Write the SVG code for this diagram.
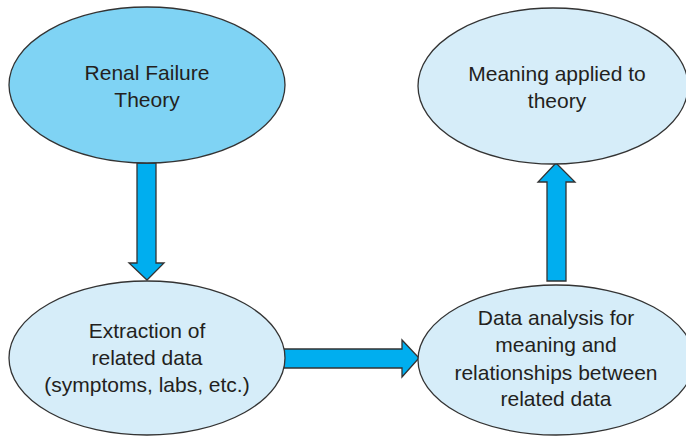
<svg xmlns="http://www.w3.org/2000/svg" width="686" height="437" viewBox="0 0 686 437">
<style>
.node ellipse{stroke:#333;stroke-width:1.3}
.light{fill:#d6edf9}
.dark{fill:#7fd3f4}
text{font-family:"Liberation Sans",Arial,sans-serif;font-size:21px;fill:#231f20;text-anchor:middle}
.arrow{fill:#00aeef;stroke:#333;stroke-width:1.3;stroke-linejoin:miter}
</style>
<rect width="686" height="437" fill="#fff"/>
<g id="connectors">
<path class="arrow" d="M137,163 L156,163 L156,263 L164,263 L147,280 L129,263 L137,263 Z"/>
<path class="arrow" d="M284,349 L402,349 L402,340 L419,358 L402,377 L402,368 L284,368 Z"/>
<path class="arrow" d="M547,281 L547,182 L538,182 L556,163 L575,182 L566,182 L566,281 Z"/>
</g>
<g id="renal" class="node">
<ellipse class="dark" cx="147" cy="85" rx="138" ry="78"/>
<text x="147" y="80">Renal Failure</text>
<text x="147" y="107">Theory</text>
</g>
<g id="meaning" class="node">
<ellipse class="light" cx="553" cy="86" rx="135" ry="78"/>
<text x="557" y="81">Meaning applied to</text>
<text x="557" y="108">theory</text>
</g>
<g id="extraction" class="node">
<ellipse class="light" cx="147" cy="358" rx="138" ry="77"/>
<text x="147" y="338">Extraction of</text>
<text x="147" y="365">related data</text>
<text x="147" y="392">(symptoms, labs, etc.)</text>
</g>
<g id="analysis" class="node">
<ellipse class="light" cx="556" cy="360" rx="138" ry="75"/>
<text x="556" y="325">Data analysis for</text>
<text x="556" y="352">meaning and</text>
<text x="556" y="380">relationships between</text>
<text x="556" y="406">related data</text>
</g>
</svg>
